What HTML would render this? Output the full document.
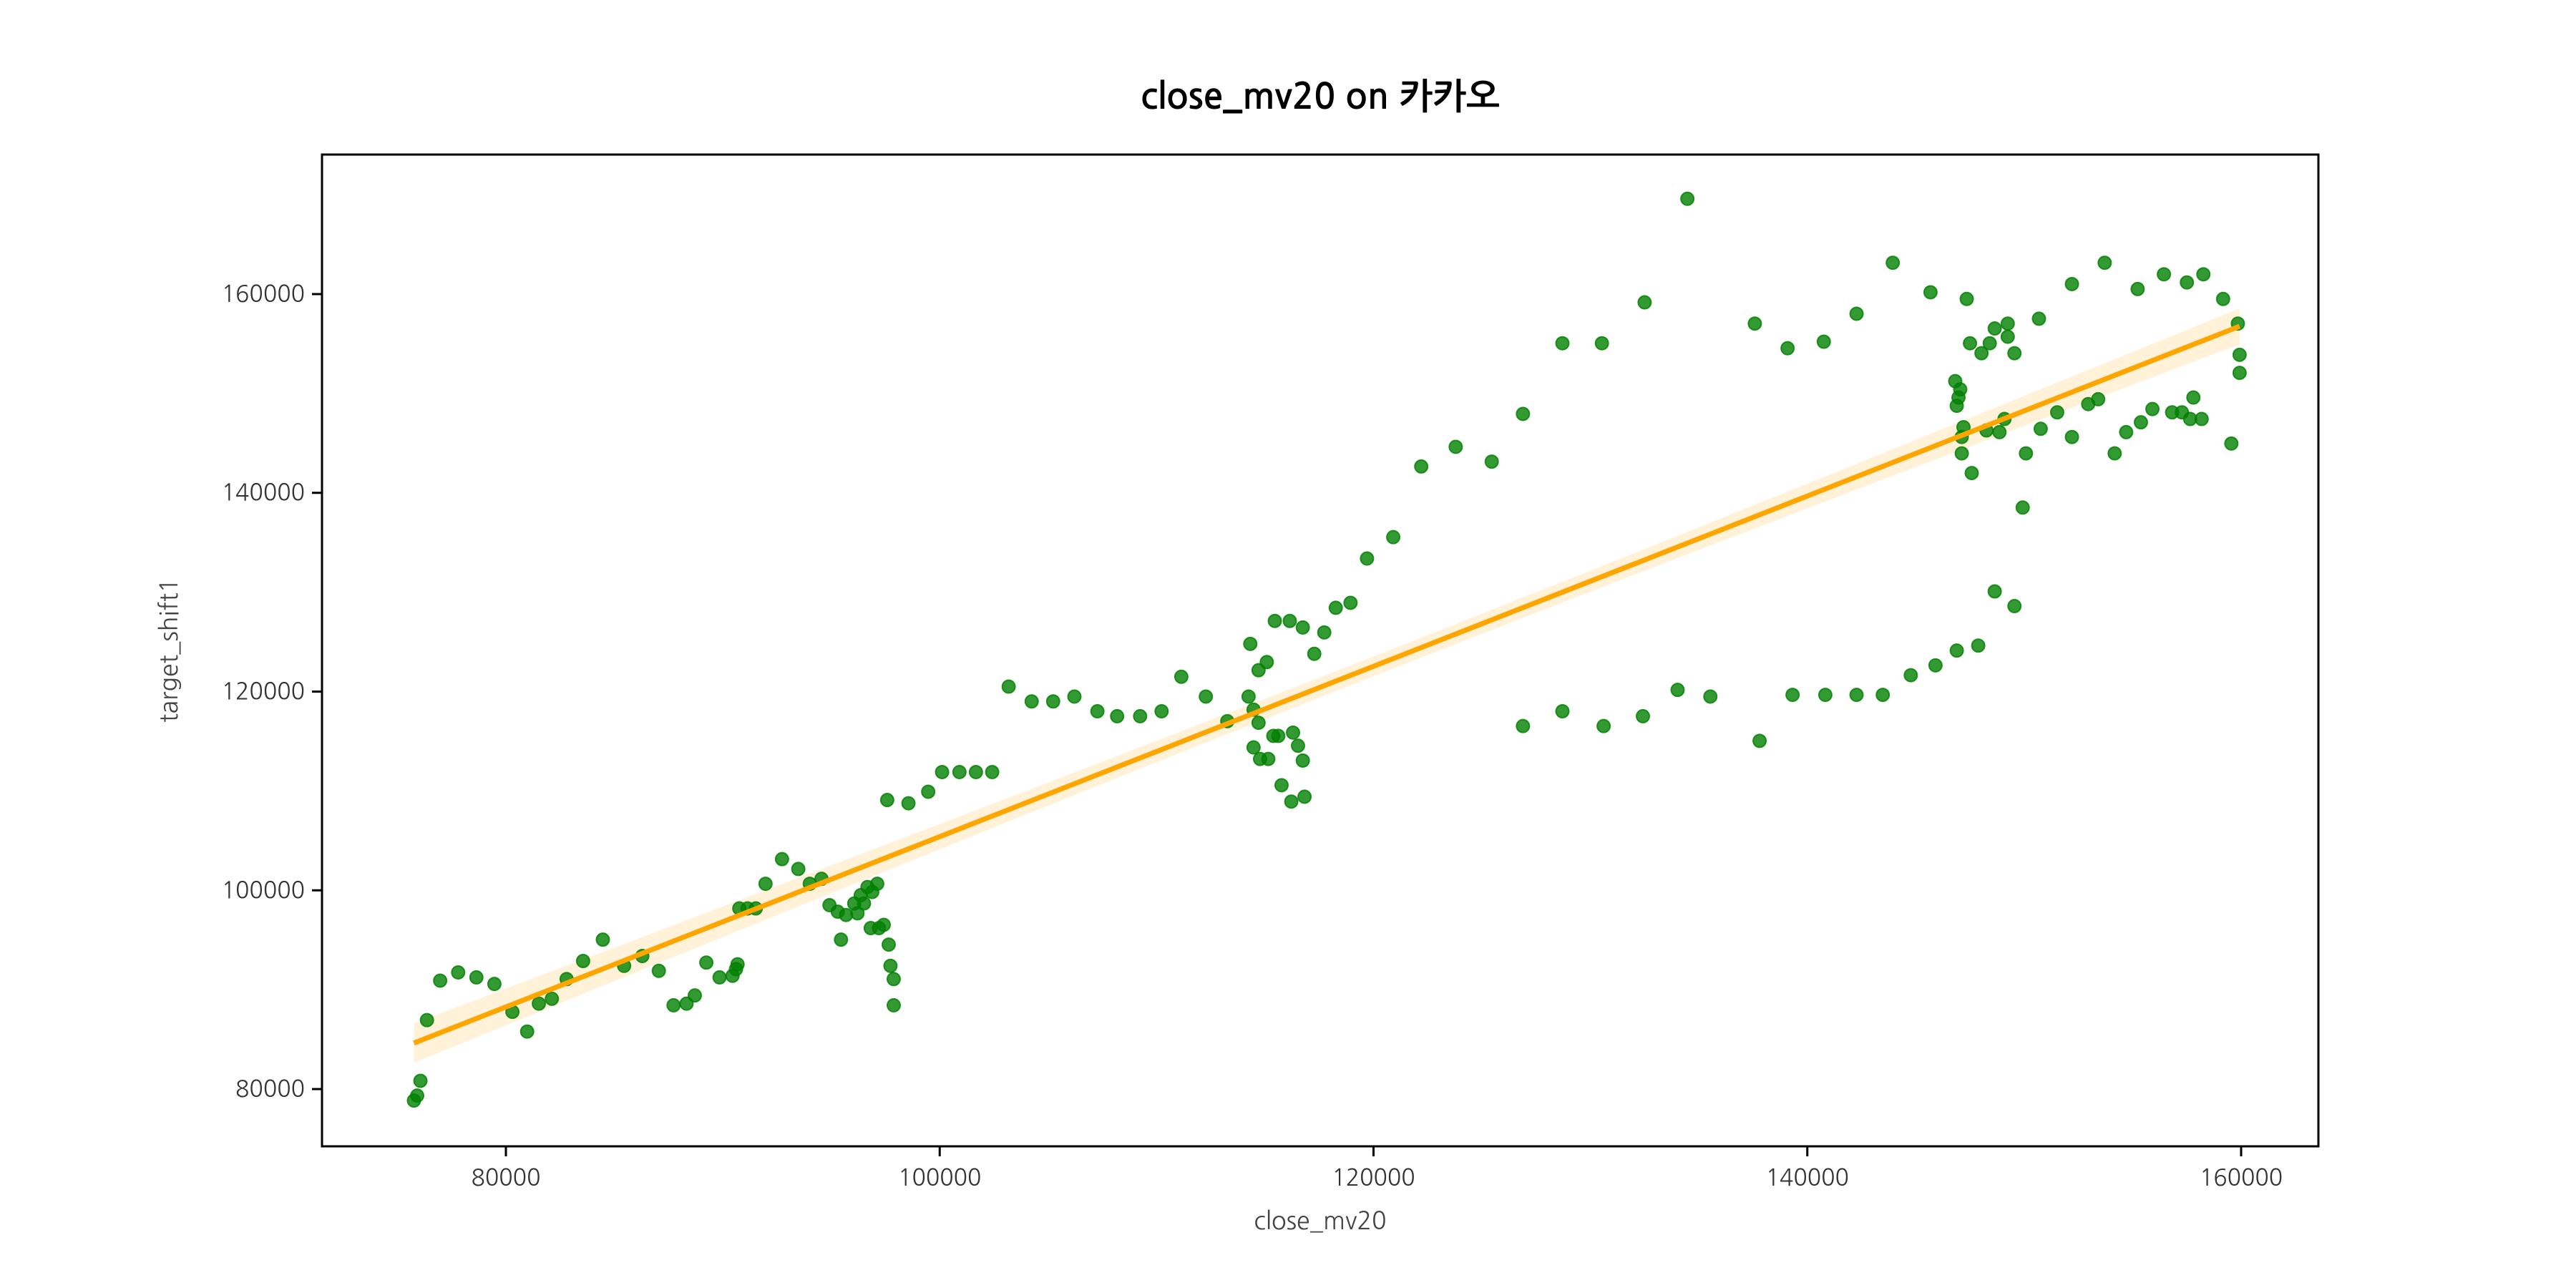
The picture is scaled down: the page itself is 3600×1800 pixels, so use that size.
<!DOCTYPE html>
<html><head><meta charset="utf-8">
<style>
html,body{margin:0;padding:0;background:#fff;}
svg{display:block;font-family:"NanumGothic","Liberation Sans","Noto Sans CJK KR",sans-serif;}
</style></head>
<body>
<svg id="chart" width="3600" height="1800" viewBox="0 0 3600 1800" xmlns="http://www.w3.org/2000/svg">
<rect width="3600" height="1800" fill="#fff"/>
<text x="1845" y="152" font-size="50" font-weight="bold" text-anchor="middle" fill="#000">close_mv20 on 카카오</text>
<g id="band"></g><g id="pts"></g><g id="line"></g>
<rect x="450" y="216" width="2790" height="1386" fill="none" stroke="#000" stroke-width="3"/>
<g id="xt"></g><g id="yt"></g>
<text x="1845" y="1718" font-size="34" text-anchor="middle" fill="#444">close_mv20</text>
<text transform="translate(248,909) rotate(-90)" font-size="34" text-anchor="middle" fill="#444">target_shift1</text>
</svg>
<script>
const xTicks=[80000,100000,120000,140000,160000];
const yTicks=[80000,100000,120000,140000,160000];
const xs=[75760,75910,76060,76360,76970,77800,78640,79470,80300,80980,81520,82120,82800,83560,84470,85450,86290,87050,87730,88330,88710,89240,89850,90450,90610,90680,90760,91140,91520,91970,92730,93480,94010,94550,94920,95300,95450,95680,96060,96210,96360,96510,96670,96890,97120,96820,97200,97420,97650,97730,97880,97880,97580,98560,99470,100110,100910,101670,102420,103180,104240,105230,106210,107270,108180,109240,110230,111140,112270,113260,114320,114700,115080,114240,114470,114700,114470,114770,115150,115380,115610,115760,116210,115450,116140,116740,116290,116520,116740,116820,117270,117730,118260,118940,119700,120910,122200,123790,125450,126890,126890,128710,128710,130530,130610,132420,132500,134020,134470,135530,137580,137800,139090,139320,140760,140830,142270,142270,143480,143940,144770,145680,145910,146890,147350,147880,148640,149550,146820,146970,147050,146890,147200,147120,147120,147580,147500,148030,148260,148410,148640,148860,149090,149240,149240,149550,150080,149930,150680,150760,151520,152200,152200,152950,153410,153710,154170,154700,155230,155380,155910,156440,156820,157270,157500,157650,157800,158180,158260,159170,159550,159850,159930,159930];
const ys=[78840,79340,80830,86940,90910,91740,91240,90580,87770,85790,88600,89090,91070,92890,95040,92400,93390,91900,88430,88600,89420,92730,91240,91400,92070,92560,98180,98180,98180,100660,103140,102150,100660,101160,98510,97850,95040,97520,98680,97690,99510,98680,100330,99830,100660,96200,96200,96530,94540,92400,91070,88430,109090,108760,109920,111900,111900,111900,111900,120500,119010,119010,119500,118020,117520,117520,118020,121490,119500,117020,124800,122150,122970,119500,118180,116860,114380,113220,113220,115540,115540,110580,108930,127110,127110,126450,115870,114550,113060,109420,123800,125950,128430,128930,133390,135540,142650,144630,143140,147940,116530,155050,118020,155050,116530,117520,159170,120170,169590,119500,157030,115040,154550,119670,155210,119670,158020,119670,119670,163150,121650,160180,122640,124130,159510,124630,130080,128600,151240,149590,150410,148760,146610,145620,143970,141990,155050,154050,146280,155050,156540,146110,147430,157030,155710,154050,143970,138520,157520,146440,148100,161010,145620,148930,149420,163150,143970,146110,160510,147100,148430,161990,148100,148100,161170,147430,149590,147430,161990,159510,144960,157030,153890,152070];
const X0=450,X1=3240,Y0=1602,Y1=216,XMIN=71522,XMAX=163563,YMIN=74240,YMAX=174040;
const sx=v=>X0+(v-XMIN)/(XMAX-XMIN)*(X1-X0);
const sy=v=>Y0-(v-YMIN)/(YMAX-YMIN)*(Y0-Y1);
const NS="http://www.w3.org/2000/svg";
function mk(tag,attrs,parent){const e=document.createElementNS(NS,tag);for(const k in attrs)e.setAttribute(k,attrs[k]);parent.appendChild(e);return e;}
const xt=document.getElementById('xt'),yt=document.getElementById('yt');
xTicks.forEach(t=>{
  const l=mk('line',{x1:sx(t),x2:sx(t),y1:Y0,y2:Y0+14,stroke:'#000','stroke-width':3},xt);
  
  
  const tx=mk('text',{x:sx(t),y:Y0+55,'font-size':32,'text-anchor':'middle',fill:'#333'},xt);
  tx.textContent=t;
  
  
});
yTicks.forEach(t=>{
  const l=mk('line',{x1:X0-14,x2:X0,y1:sy(t),y2:sy(t),stroke:'#000','stroke-width':3},yt);
  
  
  const tx=mk('text',{x:X0-24,y:sy(t)+11,'font-size':32,'text-anchor':'end',fill:'#333'},yt);
  tx.textContent=t;
  
  
});
const pts=document.getElementById('pts');
xs.forEach((x,i)=>{
  const c=mk('circle',{cx:sx(x),cy:sy(ys[i]),r:9,fill:'#008000','fill-opacity':0.8,stroke:'#008000','stroke-opacity':0.8,'stroke-width':2},pts);
  
  
});
const n=xs.length,mx=xs.reduce((a,b)=>a+b)/n,my=ys.reduce((a,b)=>a+b)/n;
let sxx=0,sxy=0;xs.forEach((x,i)=>{sxx+=(x-mx)**2;sxy+=(x-mx)*(ys[i]-my);});
const b=sxy/sxx,a=my-b*mx;
let sse=0;xs.forEach((x,i)=>{sse+=(ys[i]-a-b*x)**2;});
const s=Math.sqrt(sse/(n-2));
const xa=Math.min(...xs),xb=Math.max(...xs);
const up=[],dn=[];
for(let k=0;k<=50;k++){const x=xa+(xb-xa)*k/50;const h=1.3*s*Math.sqrt(1/n+(x-mx)**2/sxx);const yh=a+b*x;up.push(sx(x)+','+sy(yh+h));dn.unshift(sx(x)+','+sy(yh-h));}
const band=mk('polygon',{points:up.concat(dn).join(' '),fill:'#ffa500','fill-opacity':0.15},document.getElementById('band'));


const ln=mk('line',{x1:sx(xa),y1:sy(a+b*xa),x2:sx(xb),y2:sy(a+b*xb),stroke:'#ffa500','stroke-width':7},document.getElementById('line'));


</script>
</body></html>
